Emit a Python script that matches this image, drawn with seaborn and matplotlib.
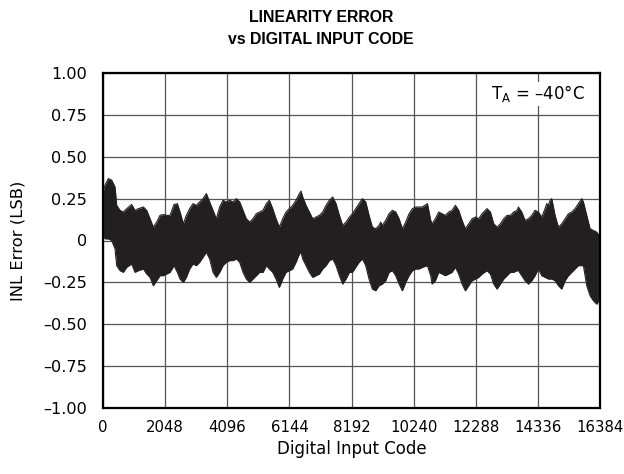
import numpy as np
import pandas as pd
import matplotlib
matplotlib.use("Agg")
import matplotlib.pyplot as plt
from matplotlib.patches import Rectangle
import seaborn as sns

# ---- data (envelope of the INL band) ----
codes = [16, 66, 176, 286, 396, 451, 560, 670, 780, 945, 1055, 1165, 1330, 1440, 1550, 1660, 1770, 1879, 1989, 2099, 2209, 2341, 2451, 2539, 2649,
         2747, 2857, 2967, 3077, 3187, 3297, 3407, 3517, 3627, 3736, 3846, 3956, 4066, 4176, 4286, 4396, 4506, 4616, 4725, 4835, 4945, 5055, 5165, 5275, 5385,
         5484, 5594, 5704, 5814, 5924, 6034, 6144, 6253, 6363, 6473, 6528, 6583, 6693, 6803, 6913, 7023, 7133, 7243, 7352, 7462, 7572, 7682, 7792, 7902, 8012, 8122,
         8221, 8331, 8441, 8551, 8661, 8770, 8880, 8990, 9100, 9155, 9210, 9320, 9430, 9540, 9650, 9760, 9870, 9979, 10089, 10199, 10309, 10419, 10529, 10694, 10804,
         10847, 10957, 11067, 11177, 11287, 11397, 11506, 11616, 11726, 11836, 11946, 12056, 12166, 12276, 12386, 12496, 12660, 12770, 12880, 12990, 13100, 13210, 13320, 13430, 13540, 13649,
         13694, 13804, 13914, 14024, 14134, 14243, 14353, 14463, 14573, 14628, 14683, 14738, 14793, 14903, 15013, 15123, 15233, 15343, 15452, 15562, 15672, 15782, 15837, 15947, 16057, 16167, 16277, 16354]

inl_upper = [0.30, 0.33, 0.37, 0.36, 0.32, 0.21, 0.18, 0.17, 0.19, 0.215, 0.18, 0.19, 0.20, 0.18, 0.13, 0.08, 0.11, 0.15, 0.155, 0.15, 0.15, 0.215, 0.22, 0.17, 0.10,
             0.15, 0.19, 0.22, 0.21, 0.23, 0.25, 0.28, 0.23, 0.18, 0.13, 0.20, 0.24, 0.23, 0.24, 0.23, 0.25, 0.23, 0.18, 0.13, 0.11, 0.13, 0.16, 0.17, 0.18, 0.22,
             0.24, 0.19, 0.13, 0.08, 0.13, 0.17, 0.19, 0.21, 0.24, 0.28, 0.295, 0.26, 0.21, 0.17, 0.13, 0.14, 0.15, 0.17, 0.21, 0.24, 0.26, 0.22, 0.15, 0.09, 0.11, 0.14,
             0.16, 0.19, 0.22, 0.25, 0.23, 0.15, 0.08, 0.07, 0.09, 0.11, 0.09, 0.12, 0.16, 0.18, 0.17, 0.13, 0.07, 0.11, 0.16, 0.19, 0.20, 0.20, 0.20, 0.22, 0.12,
             0.10, 0.13, 0.17, 0.16, 0.15, 0.17, 0.18, 0.21, 0.18, 0.12, 0.07, 0.10, 0.13, 0.14, 0.13, 0.16, 0.19, 0.17, 0.10, 0.08, 0.10, 0.13, 0.15, 0.15, 0.17, 0.18,
             0.20, 0.17, 0.12, 0.13, 0.15, 0.18, 0.17, 0.14, 0.19, 0.22, 0.21, 0.24, 0.25, 0.15, 0.08, 0.10, 0.13, 0.16, 0.17, 0.19, 0.22, 0.25, 0.23, 0.15, 0.07, 0.06, 0.05, 0.03]

inl_lower = [0.03, 0.01, 0.01, 0.00, -0.05, -0.15, -0.18, -0.19, -0.16, -0.14, -0.19, -0.18, -0.17, -0.20, -0.22, -0.27, -0.24, -0.21, -0.21, -0.20, -0.19, -0.15, -0.19, -0.23, -0.25,
             -0.22, -0.17, -0.14, -0.15, -0.13, -0.10, -0.07, -0.11, -0.19, -0.22, -0.19, -0.15, -0.13, -0.12, -0.12, -0.11, -0.13, -0.19, -0.23, -0.25, -0.23, -0.21, -0.19, -0.19, -0.15,
             -0.17, -0.19, -0.23, -0.28, -0.23, -0.19, -0.18, -0.17, -0.13, -0.08, -0.07, -0.11, -0.15, -0.19, -0.22, -0.21, -0.20, -0.17, -0.15, -0.12, -0.11, -0.15, -0.21, -0.26, -0.23, -0.19,
             -0.19, -0.16, -0.13, -0.11, -0.15, -0.23, -0.29, -0.30, -0.27, -0.265, -0.26, -0.24, -0.19, -0.18, -0.21, -0.26, -0.30, -0.25, -0.21, -0.18, -0.17, -0.17, -0.16, -0.15, -0.21,
             -0.26, -0.24, -0.19, -0.20, -0.21, -0.20, -0.19, -0.16, -0.20, -0.26, -0.30, -0.27, -0.24, -0.23, -0.22, -0.20, -0.18, -0.20, -0.26, -0.29, -0.26, -0.23, -0.21, -0.19, -0.19, -0.18,
             -0.18, -0.21, -0.24, -0.26, -0.24, -0.21, -0.17, -0.21, -0.22, -0.225, -0.23, -0.23, -0.23, -0.24, -0.27, -0.29, -0.24, -0.21, -0.19, -0.17, -0.15, -0.15, -0.15, -0.27, -0.33, -0.36, -0.38, -0.36]

x_ticks = [0, 2048, 4096, 6144, 8192, 10240, 12288, 14336, 16384]
x_tick_labels = ["0", "2048", "4096", "6144", "8192", "10240", "12288", "14336", "16384"]
y_ticks = [-1.0, -0.75, -0.5, -0.25, 0.0, 0.25, 0.5, 0.75, 1.0]
y_tick_labels = ["\u20131.00", "\u20130.75", "\u20130.50", "\u20130.25", "0", "0.25", "0.50", "0.75", "1.00"]

title_line1 = "LINEARITY ERROR"
title_line2 = "vs DIGITAL INPUT CODE"
x_label = "Digital Input Code"
y_label = "INL Error (LSB)"
temp_label = "T$_{\\mathrm{A}}$ = \u201340\u00b0C"

# ---- styling ----
sns.set_theme(style="white")
plt.rcParams["font.family"] = ["DejaVu Sans"]
plt.rcParams["mathtext.fontset"] = "dejavusans"

band_color = "#231f20"
grid_color = "#555555"

df = pd.DataFrame({"code": codes, "upper": inl_upper, "lower": inl_lower})

fig = plt.figure(figsize=(6.24, 4.74), dpi=100)
ax = fig.add_axes([103 / 624, 1 - 408 / 474, 497 / 624, 335 / 474])

ax.fill_between(df["code"], df["lower"], df["upper"], color=band_color, lw=0, zorder=2)
sns.lineplot(data=df, x="code", y="upper", ax=ax, color=band_color, lw=0.8, zorder=2)
sns.lineplot(data=df, x="code", y="lower", ax=ax, color=band_color, lw=0.8, zorder=2)

ax.set_xlim(0, 16384)
ax.set_ylim(-1, 1)
ax.set_xticks(x_ticks)
ax.set_xticklabels(x_tick_labels)
ax.set_yticks(y_ticks)
ax.set_yticklabels(y_tick_labels)
ax.tick_params(axis="both", length=0, colors="black")
ax.tick_params(axis="y", pad=11.5, labelsize=11.6)
ax.tick_params(axis="x", pad=8.5, labelsize=10.7)

ax.set_axisbelow(True)
ax.grid(True, color=grid_color, lw=0.9, zorder=1)
for sp in ax.spines.values():
    sp.set_color("black")
    sp.set_linewidth(1.6)
    sp.set_zorder(5)

ax.set_xlabel(x_label, fontsize=12, color="black")
ax.set_ylabel(y_label, fontsize=11.8, color="black")
ax.xaxis.label.set_va("center")
ax.yaxis.label.set_va("center")
ax.xaxis.set_label_coords(0.5, (408 - 449) / 335)
ax.yaxis.set_label_coords((18 - 103) / 497, 0.5)

# white label box covering grid lines at top right
ax.add_patch(Rectangle(((478 - 103) / 497, (408 - 106) / 335), 120 / 497, 24 / 335,
                       transform=ax.transAxes, facecolor="white", edgecolor="none", zorder=4))
ax.text((538 - 103) / 497, (408 - 93) / 335, temp_label, transform=ax.transAxes,
        ha="center", va="center", fontsize=12, color="black", zorder=6)

fig.text(321 / 624, 1 - 17 / 474, title_line1, ha="center", va="center",
         fontsize=11.4, fontweight="bold", color="black", family=["Liberation Sans", "DejaVu Sans"])
fig.text(321 / 624, 1 - 40 / 474, title_line2, ha="center", va="center",
         fontsize=11.4, fontweight="bold", color="black", family=["Liberation Sans", "DejaVu Sans"])

fig.savefig("out.png", dpi=100)
